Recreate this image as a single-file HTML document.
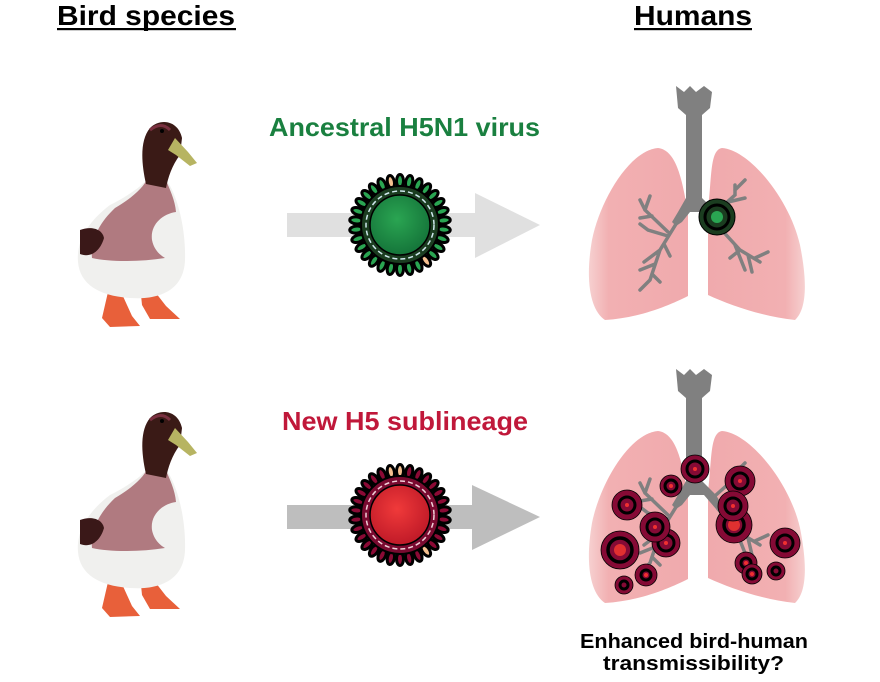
<!DOCTYPE html>
<html><head><meta charset="utf-8"><style>
html,body{margin:0;padding:0;background:#fff;width:880px;height:682px;overflow:hidden}
svg{display:block}
text{font-family:"Liberation Sans",Arial,sans-serif;font-weight:bold}
</style></head><body>
<svg width="880" height="682" viewBox="0 0 880 682" xmlns="http://www.w3.org/2000/svg">
<defs>
<radialGradient id="gg" cx="0.45" cy="0.4" r="0.6"><stop offset="0" stop-color="#2aa552"/><stop offset="1" stop-color="#15753a"/></radialGradient>
<radialGradient id="rg" cx="0.45" cy="0.4" r="0.6"><stop offset="0" stop-color="#f03a3a"/><stop offset="1" stop-color="#c01a28"/></radialGradient>
<linearGradient id="lg" x1="0" x2="1"><stop offset="0" stop-color="#f6d0d0"/><stop offset="0.2" stop-color="#f2b0b2"/><stop offset="1" stop-color="#f0aaad"/></linearGradient>
<linearGradient id="lg2" x1="1" x2="0"><stop offset="0" stop-color="#f6d0d0"/><stop offset="0.2" stop-color="#f2b0b2"/><stop offset="1" stop-color="#f0aaad"/></linearGradient>
<g id="duck">
  <path d="M108 292 L102 318 L110 327 L140 326 L132 316 L122 294Z" fill="#e8603a"/>
  <path d="M140 285 L142 305 L150 319 L180 319 L166 306 L152 288Z" fill="#e8603a"/>
  <path d="M165 178 C178 195 186 230 185 260 C184 290 160 300 130 298 C100 296 80 285 78 262 C76 240 90 220 110 205 C130 195 143 185 148 178 Z" fill="#f0f0ee"/>
  <path d="M148 178 L165 178 C170 190 175 200 176 212 C162 214 150 225 152 240 C154 250 160 255 165 258 C140 262 110 262 92 258 C90 240 100 222 115 208 C132 198 143 188 148 178Z" fill="#b07a80"/>
  <path d="M80 230 C90 226 102 228 104 238 C100 252 90 258 80 254Z" fill="#3a1818"/>
  <path d="M146 184 C141 162 140 140 150 128 C160 118 178 120 182 138 L180 155 C172 165 168 178 166 188 Z" fill="#3a1a16"/>
  <path d="M150 130 C158 124 164 124 170 130" stroke="#7a3040" stroke-width="3" fill="none"/>
  <circle cx="162" cy="131" r="2" fill="#000"/>
  <path d="M175 138 L188 152 L197 163 L190 166 L176 155 L168 150Z" fill="#b7b462"/>
</g>
<g id="lung">
  <path d="M658 148 C630 150 600 200 592 240 C585 280 590 310 605 320 C640 318 670 305 688 296 L688 215 C682 175 675 150 658 148Z" fill="url(#lg)"/>
  <path d="M722 148 C750 150 790 200 800 245 C808 285 806 310 795 320 C760 316 730 305 708 295 L708 210 C712 175 710 150 722 148Z" fill="url(#lg2)"/>
  <path d="M676 86 L684 92 L690 86 L696 92 L704 86 L712 92 L710 108 L702 115 L702 198 L716 212 L722 222 L716 226 L704 212 L690 212 L682 222 L676 226 L672 222 L678 212 L686 198 L686 115 L678 108Z" fill="#808080"/>
  <g stroke="#808080" stroke-width="3.5" fill="none" stroke-linecap="round">
    <path d="M676 224 L660 250 L650 280 M668 236 L648 230 L640 224 M660 250 L644 262 M655 264 L640 270 M652 274 L660 282 M650 280 L640 290 M664 244 L670 256"/>
    <path d="M668 232 L645 210 L640 200 M652 216 L640 218 M645 210 L650 196"/>
    <path d="M718 226 L740 250 L760 262 M735 245 L745 270 M748 255 L752 272 M755 258 L768 252 M740 250 L730 258"/>
    <path d="M716 212 L735 195 L735 185 M728 202 L745 198 M735 190 L745 180"/>
  </g>
</g>
<g id="sp">
  <ellipse cx="0" cy="-44" rx="3.5" ry="6.5"/>
</g>
</defs>

<text x="57" y="25" font-size="28" textLength="178" lengthAdjust="spacingAndGlyphs">Bird species</text>
<rect x="57" y="28" width="179" height="2.2" fill="#000"/>
<text x="634" y="25" font-size="28" textLength="118" lengthAdjust="spacingAndGlyphs">Humans</text>
<rect x="634" y="28" width="118" height="2.2" fill="#000"/>

<text x="269" y="136" font-size="26" fill="#1a8040" textLength="271" lengthAdjust="spacingAndGlyphs">Ancestral H5N1 virus</text>
<text x="282" y="430" font-size="26" fill="#c0183a" textLength="246" lengthAdjust="spacingAndGlyphs">New H5 sublineage</text>

<use href="#duck"/>
<use href="#duck" transform="translate(0,290)"/>

<path d="M287 213 L475 213 L475 193 L540 225 L475 258 L475 237 L287 237Z" fill="#e0e0e0"/>
<path d="M287 505 L472 505 L472 485 L540 517 L472 550 L472 529 L287 529Z" fill="#bebebe"/>

<g transform="translate(400,225)">
  <g fill="#2aa552" stroke="#000" stroke-width="3">
    <use href="#sp" transform="rotate(0)"/><use href="#sp" transform="rotate(12)"/><use href="#sp" transform="rotate(24)"/><use href="#sp" transform="rotate(36)"/><use href="#sp" transform="rotate(48)"/><use href="#sp" transform="rotate(60)"/><use href="#sp" transform="rotate(72)"/><use href="#sp" transform="rotate(84)"/><use href="#sp" transform="rotate(96)"/><use href="#sp" transform="rotate(108)"/><use href="#sp" transform="rotate(120)"/><use href="#sp" transform="rotate(132)"/><use href="#sp" transform="rotate(144)" fill="#f5c090"/><use href="#sp" transform="rotate(156)"/><use href="#sp" transform="rotate(168)"/><use href="#sp" transform="rotate(180)"/><use href="#sp" transform="rotate(192)"/><use href="#sp" transform="rotate(204)"/><use href="#sp" transform="rotate(216)"/><use href="#sp" transform="rotate(228)"/><use href="#sp" transform="rotate(240)"/><use href="#sp" transform="rotate(252)"/><use href="#sp" transform="rotate(264)"/><use href="#sp" transform="rotate(276)"/><use href="#sp" transform="rotate(288)"/><use href="#sp" transform="rotate(300)"/><use href="#sp" transform="rotate(312)"/><use href="#sp" transform="rotate(324)"/><use href="#sp" transform="rotate(336)"/><use href="#sp" transform="rotate(348)" fill="#f5c090"/>
  </g>
  <circle r="39" fill="#1b3d20" stroke="#000" stroke-width="2"/>
  <circle r="34" fill="none" stroke="#cfe8ee" stroke-width="1.5" stroke-dasharray="5 3"/>
  <circle r="30" fill="url(#gg)" stroke="#000" stroke-width="1.5"/>
</g>
<g transform="translate(400,515)">
  <g fill="#8b0a35" stroke="#000" stroke-width="3">
    <use href="#sp" transform="rotate(0)" fill="#f5c090"/><use href="#sp" transform="rotate(12)"/><use href="#sp" transform="rotate(24)"/><use href="#sp" transform="rotate(36)"/><use href="#sp" transform="rotate(48)"/><use href="#sp" transform="rotate(60)"/><use href="#sp" transform="rotate(72)"/><use href="#sp" transform="rotate(84)"/><use href="#sp" transform="rotate(96)"/><use href="#sp" transform="rotate(108)"/><use href="#sp" transform="rotate(120)"/><use href="#sp" transform="rotate(132)"/><use href="#sp" transform="rotate(144)" fill="#f5c090"/><use href="#sp" transform="rotate(156)"/><use href="#sp" transform="rotate(168)"/><use href="#sp" transform="rotate(180)"/><use href="#sp" transform="rotate(192)"/><use href="#sp" transform="rotate(204)"/><use href="#sp" transform="rotate(216)"/><use href="#sp" transform="rotate(228)"/><use href="#sp" transform="rotate(240)"/><use href="#sp" transform="rotate(252)"/><use href="#sp" transform="rotate(264)"/><use href="#sp" transform="rotate(276)"/><use href="#sp" transform="rotate(288)"/><use href="#sp" transform="rotate(300)"/><use href="#sp" transform="rotate(312)"/><use href="#sp" transform="rotate(324)"/><use href="#sp" transform="rotate(336)"/><use href="#sp" transform="rotate(348)" fill="#f5c090"/>
  </g>
  <circle r="39" fill="#7a0a30" stroke="#000" stroke-width="2"/>
  <circle r="34" fill="none" stroke="#f0d0d8" stroke-width="1.5" stroke-dasharray="5 3"/>
  <circle r="30" fill="url(#rg)" stroke="#000" stroke-width="1.5"/>
</g>

<use href="#lung"/>
<g transform="translate(717,217)">
  <circle r="18" fill="#1b3d20" stroke="#000" stroke-width="1"/>
  <circle r="12" fill="none" stroke="#000" stroke-width="3"/>
  <circle r="6" fill="#2aa552"/>
</g>

<use href="#lung" transform="translate(0,283)"/>
<g fill="#850a35" stroke="#000" stroke-width="0.8">
  <g transform="translate(695,469)"><circle r="14"/><circle r="8" fill="none" stroke-width="3"/><circle r="2" fill="#f03030" stroke="none"/></g>
  <g transform="translate(671,486)"><circle r="11"/><circle r="6" fill="none" stroke-width="3"/><circle r="2" fill="#f03030" stroke="none"/></g>
  <g transform="translate(627,505)"><circle r="15"/><circle r="8" fill="none" stroke-width="3"/><circle r="2" fill="#f03030" stroke="none"/></g>
  <g transform="translate(740,481)"><circle r="15"/><circle r="8" fill="none" stroke-width="3"/><circle r="2" fill="#f03030" stroke="none"/></g>
  <g transform="translate(734,525)"><circle r="18"/><circle r="10" fill="none" stroke-width="3.5"/><circle r="6" fill="#e03030" stroke="none"/></g>
  <g transform="translate(733,506)"><circle r="15"/><circle r="8" fill="none" stroke-width="3"/><circle r="2" fill="#f03030" stroke="none"/></g>
  <g transform="translate(666,543)"><circle r="14"/><circle r="8" fill="none" stroke-width="3"/><circle r="2" fill="#f03030" stroke="none"/></g>
  <g transform="translate(655,527)"><circle r="15"/><circle r="8" fill="none" stroke-width="3"/><circle r="2" fill="#f03030" stroke="none"/></g>
  <g transform="translate(620,550)"><circle r="19"/><circle r="12" fill="none" stroke-width="3.5"/><circle r="6" fill="#e03030" stroke="none"/></g>
  <g transform="translate(785,543)"><circle r="15"/><circle r="8" fill="none" stroke-width="3"/><circle r="2" fill="#f03030" stroke="none"/></g>
  <g transform="translate(646,575)"><circle r="11"/><circle r="5" fill="none" stroke-width="3"/><circle r="2" fill="#f03030" stroke="none"/></g>
  <g transform="translate(746,563)"><circle r="11"/><circle r="5" fill="none" stroke-width="3"/><circle r="2" fill="#f03030" stroke="none"/></g>
  <g transform="translate(752,574)"><circle r="10"/><circle r="5" fill="none" stroke-width="3"/><circle r="2" fill="#f03030" stroke="none"/></g>
  <g transform="translate(624,585)"><circle r="9"/><circle r="4" fill="none" stroke-width="3"/></g>
  <g transform="translate(776,571)"><circle r="9"/><circle r="4" fill="none" stroke-width="3"/></g>
</g>

<text x="580" y="648" font-size="20" textLength="228" lengthAdjust="spacingAndGlyphs">Enhanced bird-human</text>
<text x="603" y="670" font-size="20" textLength="181" lengthAdjust="spacingAndGlyphs">transmissibility?</text>
</svg>
</body></html>
